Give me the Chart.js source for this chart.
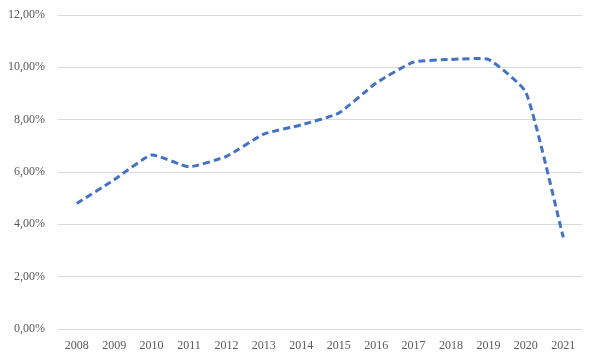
<!DOCTYPE html>
<html>
<head>
<meta charset="utf-8">
<script src="https://cdn.jsdelivr.net/npm/chart.js@4/dist/chart.umd.min.js"></script>
<style>
html,body{margin:0;padding:0;background:#fff;}
#wrap{width:596px;height:361px;position:relative;}
</style>
</head>
<body>
<div id="wrap"><canvas id="c" width="596" height="361"></canvas></div>
<script>
const years = ['2008','2009','2010','2011','2012','2013','2014','2015','2016','2017','2018','2019','2020','2021'];
const rates = [4.8, 5.7, 6.65, 6.2, 6.6, 7.45, 7.8, 8.25, 9.4, 10.2, 10.3, 10.3, 9.05, 3.5];
const yTicks = [0, 2, 4, 6, 8, 10, 12];

const fontFam = "'Liberation Serif', serif";
new Chart(document.getElementById('c'), {
  type: 'line',
  data: {
    labels: years,
    datasets: [{
      data: rates,
      borderColor: '#4472C4',
      borderWidth: 3,
      borderDash: [7, 4],
      borderCapStyle: 'butt',
      pointRadius: 0,
      tension: 0.15,
      fill: false
    }]
  },
  options: {
    responsive: false,
    animation: false,
    layout: { padding: { left: 0, right: 14, top: 15, bottom: 0 } },
    plugins: { legend: { display: false }, tooltip: { enabled: false } },
    scales: {
      x: {
        offset: true,
        grid: { display: false, drawTicks: false },
        border: { display: false },
        ticks: { color: '#595959', font: { family: fontFam, size: 12 }, padding: 10, maxRotation: 0, autoSkip: false },
        afterFit: (s) => { s.height = 32; }
      },
      y: {
        min: 0, max: 12,
        afterBuildTicks: (s) => { s.ticks = yTicks.map(v => ({ value: v })); },
        grid: { color: '#D9D9D9', lineWidth: 1, drawTicks: false },
        border: { display: false },
        ticks: {
          color: '#595959', font: { family: fontFam, size: 12 }, padding: 13,
          callback: (v) => v.toFixed(2).replace('.', ',') + '%'
        },
        afterFit: (s) => { s.width = 58; s.paddingTop = 0; }
      }
    }
  }
});
</script>
</body>
</html>
